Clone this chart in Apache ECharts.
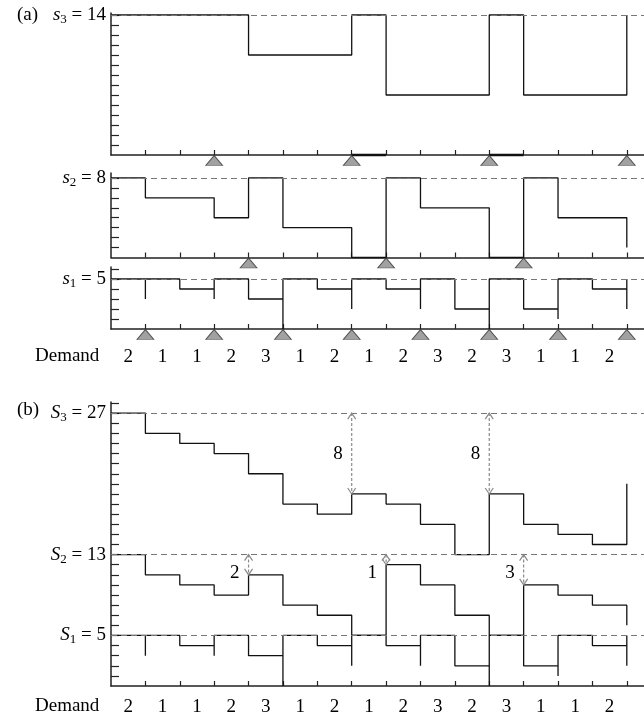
<!DOCTYPE html>
<html><head><meta charset="utf-8">
<script src="https://cdn.jsdelivr.net/npm/echarts@6/dist/echarts.min.js"></script>
<style>html,body{margin:0;padding:0;background:#fff}#c{width:644px;height:717px}</style>
</head><body><div id="c"></div>
<script>
// ---------- data ----------
const demand = [2,1,1,2,3,1,2,1,2,3,2,3,1,1,2];
// panel (a): installation stock per period (last entry = level after final review)
const s3Level = [14,14,14,14,10,10,10,14,6,6,6,14,6,6,6,14];
const s2Level = [8,6,6,4,8,3,3,0,8,5,5,0,8,4,4,1];
const s1Level = [5,5,4,5,3,5,4,5,4,5,2,5,2,5,4,5];
const s1Dip   = [3,4,3,3,0,4,2,4,2,2,0,2,1,4,2];   // lowest point at end of each period
const s3EmptyPeriods = [7, 11];
const s3Orders = [3,7,11,15];
const s2Orders = [4,8,12];
const s1Orders = [1,3,5,7,9,11,13,15];
const baseA = [14, 8, 5];            // s3, s2, s1
// panel (b): echelon stock
const S3Level = [27,25,24,23,21,18,17,19,18,16,13,19,16,15,14,20];
const S2Level = [13,11,10,9,11,8,7,5,12,10,7,5,10,9,8,6];
const S1Level = s1Level;
const S1Dip = s1Dip;
const baseB = [27, 13, 5];           // S3, S2, S1
const arrowX    = [4, 7, 8, 11, 12];
const arrowFrom = [13, 27, 13, 27, 13];
const arrowTo   = [11, 19, 12, 19, 10];
const arrowText = ['2','8','1','8','3'];

// ---------- helpers ----------
const FF = '"Liberation Serif","Times New Roman",serif';
const range = (a,b,s=1)=>{const r=[];for(let v=a;v<=b+1e-9;v+=s)r.push(v);return r;};
function dipPath(level, dip){
  const pts=[];
  for(let t=0;t<dip.length;t++){
    pts.push([t,level[t]]); pts.push([t+1,level[t]]); pts.push([t+1,dip[t]]);
  }
  pts.push([dip.length, level[dip.length]]);
  return pts;
}
const stepData = lv => lv.map((v,i)=>[i,v]);
const LINE = {color:'#111', width:1.3};
const AX = {color:'#222', width:1.5};
const rich = {
  i:{fontFamily:FF, fontStyle:'italic', fontSize:19, lineHeight:22, color:'#000'},
  sub:{fontFamily:FF, fontSize:13, lineHeight:12, verticalAlign:'bottom', color:'#000'},
  n:{fontFamily:FF, fontSize:19, lineHeight:22, color:'#000'}
};

const grids = [
  {left:111, width:533, top:13,  height:142},
  {left:111, width:533, top:173, height:84.5},
  {left:111, width:533, top:267, height:62},
  {left:111, width:533, top:402, height:284}
];
const yMax = [14.2, 8.5, 6.2, 28.1];
const yLab = [
  {vals:[baseA[0]], f:()=>'{i|s}{sub|3}{n| = '+baseA[0]+'}'},
  {vals:[baseA[1]], f:()=>'{i|s}{sub|2}{n| = '+baseA[1]+'}'},
  {vals:[baseA[2]], f:()=>'{i|s}{sub|1}{n| = '+baseA[2]+'}'},
  {vals:baseB.slice(), f:v=>{const k=baseB.indexOf(v);return '{i|S}{sub|'+(3-k)+'}{n| = '+v+'}';}}
];
const showDemand = [false,false,true,true];
const demandMargin = [0,0,19,12];

const xAxis = grids.map((g,i)=>({
  type:'value', gridIndex:i, min:0, max:15.5,
  axisLine:{show:true, onZero:false, lineStyle:AX},
  axisTick:{show:true, inside:true, length:5, lineStyle:{color:'#222',width:1.2}, customValues:range(1,15)},
  splitLine:{show:false},
  axisLabel:{show:showDemand[i], customValues:demand.map((d,k)=>k+0.5),
    formatter:v=>String(demand[Math.floor(v)]), fontFamily:FF, fontSize:19, color:'#000', margin:demandMargin[i]}
}));
const yAxis = grids.map((g,i)=>({
  type:'value', gridIndex:i, min:0, max:yMax[i],
  axisLine:{show:true, onZero:false, lineStyle:AX},
  axisTick:{show:true, inside:true, length:8, lineStyle:{color:'#222',width:1.2}, customValues:range(1,Math.floor(yMax[i]))},
  splitLine:{show:false},
  axisLabel:{show:true, customValues:yLab[i].vals, formatter:yLab[i].f, rich:rich, margin:5}
}));

function dashLines(vals){
  return {silent:true, symbol:'none', label:{show:false},
    lineStyle:{type:[6,4], color:'#777', width:1.2}, data:vals.map(v=>({yAxis:v}))};
}
function lineS(i, data, step, extra){
  return Object.assign({type:'line', xAxisIndex:i, yAxisIndex:i, data:data, step:step||false,
    symbol:'none', clip:false, lineStyle:LINE, z:3, animation:false}, extra||{});
}
function tri(i, xs){
  return {type:'scatter', xAxisIndex:i, yAxisIndex:i, data:xs.map(x=>[x,0]), symbol:'triangle',
    symbolSize:[17,10], symbolOffset:[0,5.5], clip:false, z:4,
    itemStyle:{color:'#8a8a8a', borderColor:'#333', borderWidth:0.8}};
}

const series = [
  lineS(0, stepData(s3Level), 'end', {markLine:dashLines([baseA[0]])}),
  lineS(1, stepData(s2Level), 'end', {markLine:dashLines([baseA[1]])}),
  lineS(2, dipPath(s1Level, s1Dip), false, {markLine:dashLines([baseA[2]])}),
  lineS(3, dipPath(S1Level, S1Dip), false, {markLine:dashLines(baseB)}),
  lineS(3, stepData(S2Level), 'end'),
  lineS(3, stepData(S3Level), 'end'),
  tri(0, s3Orders), tri(1, s2Orders), tri(2, s1Orders),
  {
    type:'custom', xAxisIndex:3, yAxisIndex:3, clip:false, z:5,
    data: arrowX.map((x,k)=>[x, arrowFrom[k], arrowTo[k]]),
    renderItem:(params, api)=>{
      const k = params.dataIndex;
      const p1 = api.coord([api.value(0), api.value(1)]);
      const p2 = api.coord([api.value(0), api.value(2)]);
      const st = {stroke:'#8a8a8a', lineWidth:1.2, fill:'none'};
      const span = Math.abs(api.value(1)-api.value(2));
      const ty = span > 4 ? (p1[1]+p2[1])/2 : api.coord([0, api.value(1)-1.8])[1];
      return {type:'group', children:[
        {type:'line', shape:{x1:p1[0],y1:p1[1],x2:p2[0],y2:p2[1]}, style:Object.assign({lineDash:[3,2]}, st)},
        {type:'polyline', shape:{points:[[p1[0]-4,p1[1]+6],[p1[0],p1[1]],[p1[0]+4,p1[1]+6]]}, style:st},
        {type:'polyline', shape:{points:[[p2[0]-4,p2[1]-6],[p2[0],p2[1]],[p2[0]+4,p2[1]-6]]}, style:st},
        {type:'text', x:p1[0]-9, y:ty, style:{text:arrowText[k], fontFamily:FF, fontSize:19, fill:'#000', align:'right', verticalAlign:'middle'}}
      ]};
    }
  }
];
s3EmptyPeriods.forEach(p=>series.push(lineS(0, [[p,0],[p+1,0]], false, {lineStyle:{color:'#111', width:2.4}})));

const chart = echarts.init(document.getElementById('c'), null, {renderer:'canvas'});
chart.setOption({
  animation:false,
  backgroundColor:'#fff',
  grid:grids,
  xAxis:xAxis,
  yAxis:yAxis,
  series:series,
  graphic:[
    {type:'text', x:17, y:15, style:{text:'(a)', fontFamily:FF, fontSize:19, fill:'#000', verticalAlign:'middle'}},
    {type:'text', x:17, y:410, style:{text:'(b)', fontFamily:FF, fontSize:19, fill:'#000', verticalAlign:'middle'}},
    {type:'text', x:35, y:356, style:{text:'Demand', fontFamily:FF, fontSize:19, fill:'#000', verticalAlign:'middle'}},
    {type:'text', x:35, y:706, style:{text:'Demand', fontFamily:FF, fontSize:19, fill:'#000', verticalAlign:'middle'}}
  ]
});
</script></body></html>
